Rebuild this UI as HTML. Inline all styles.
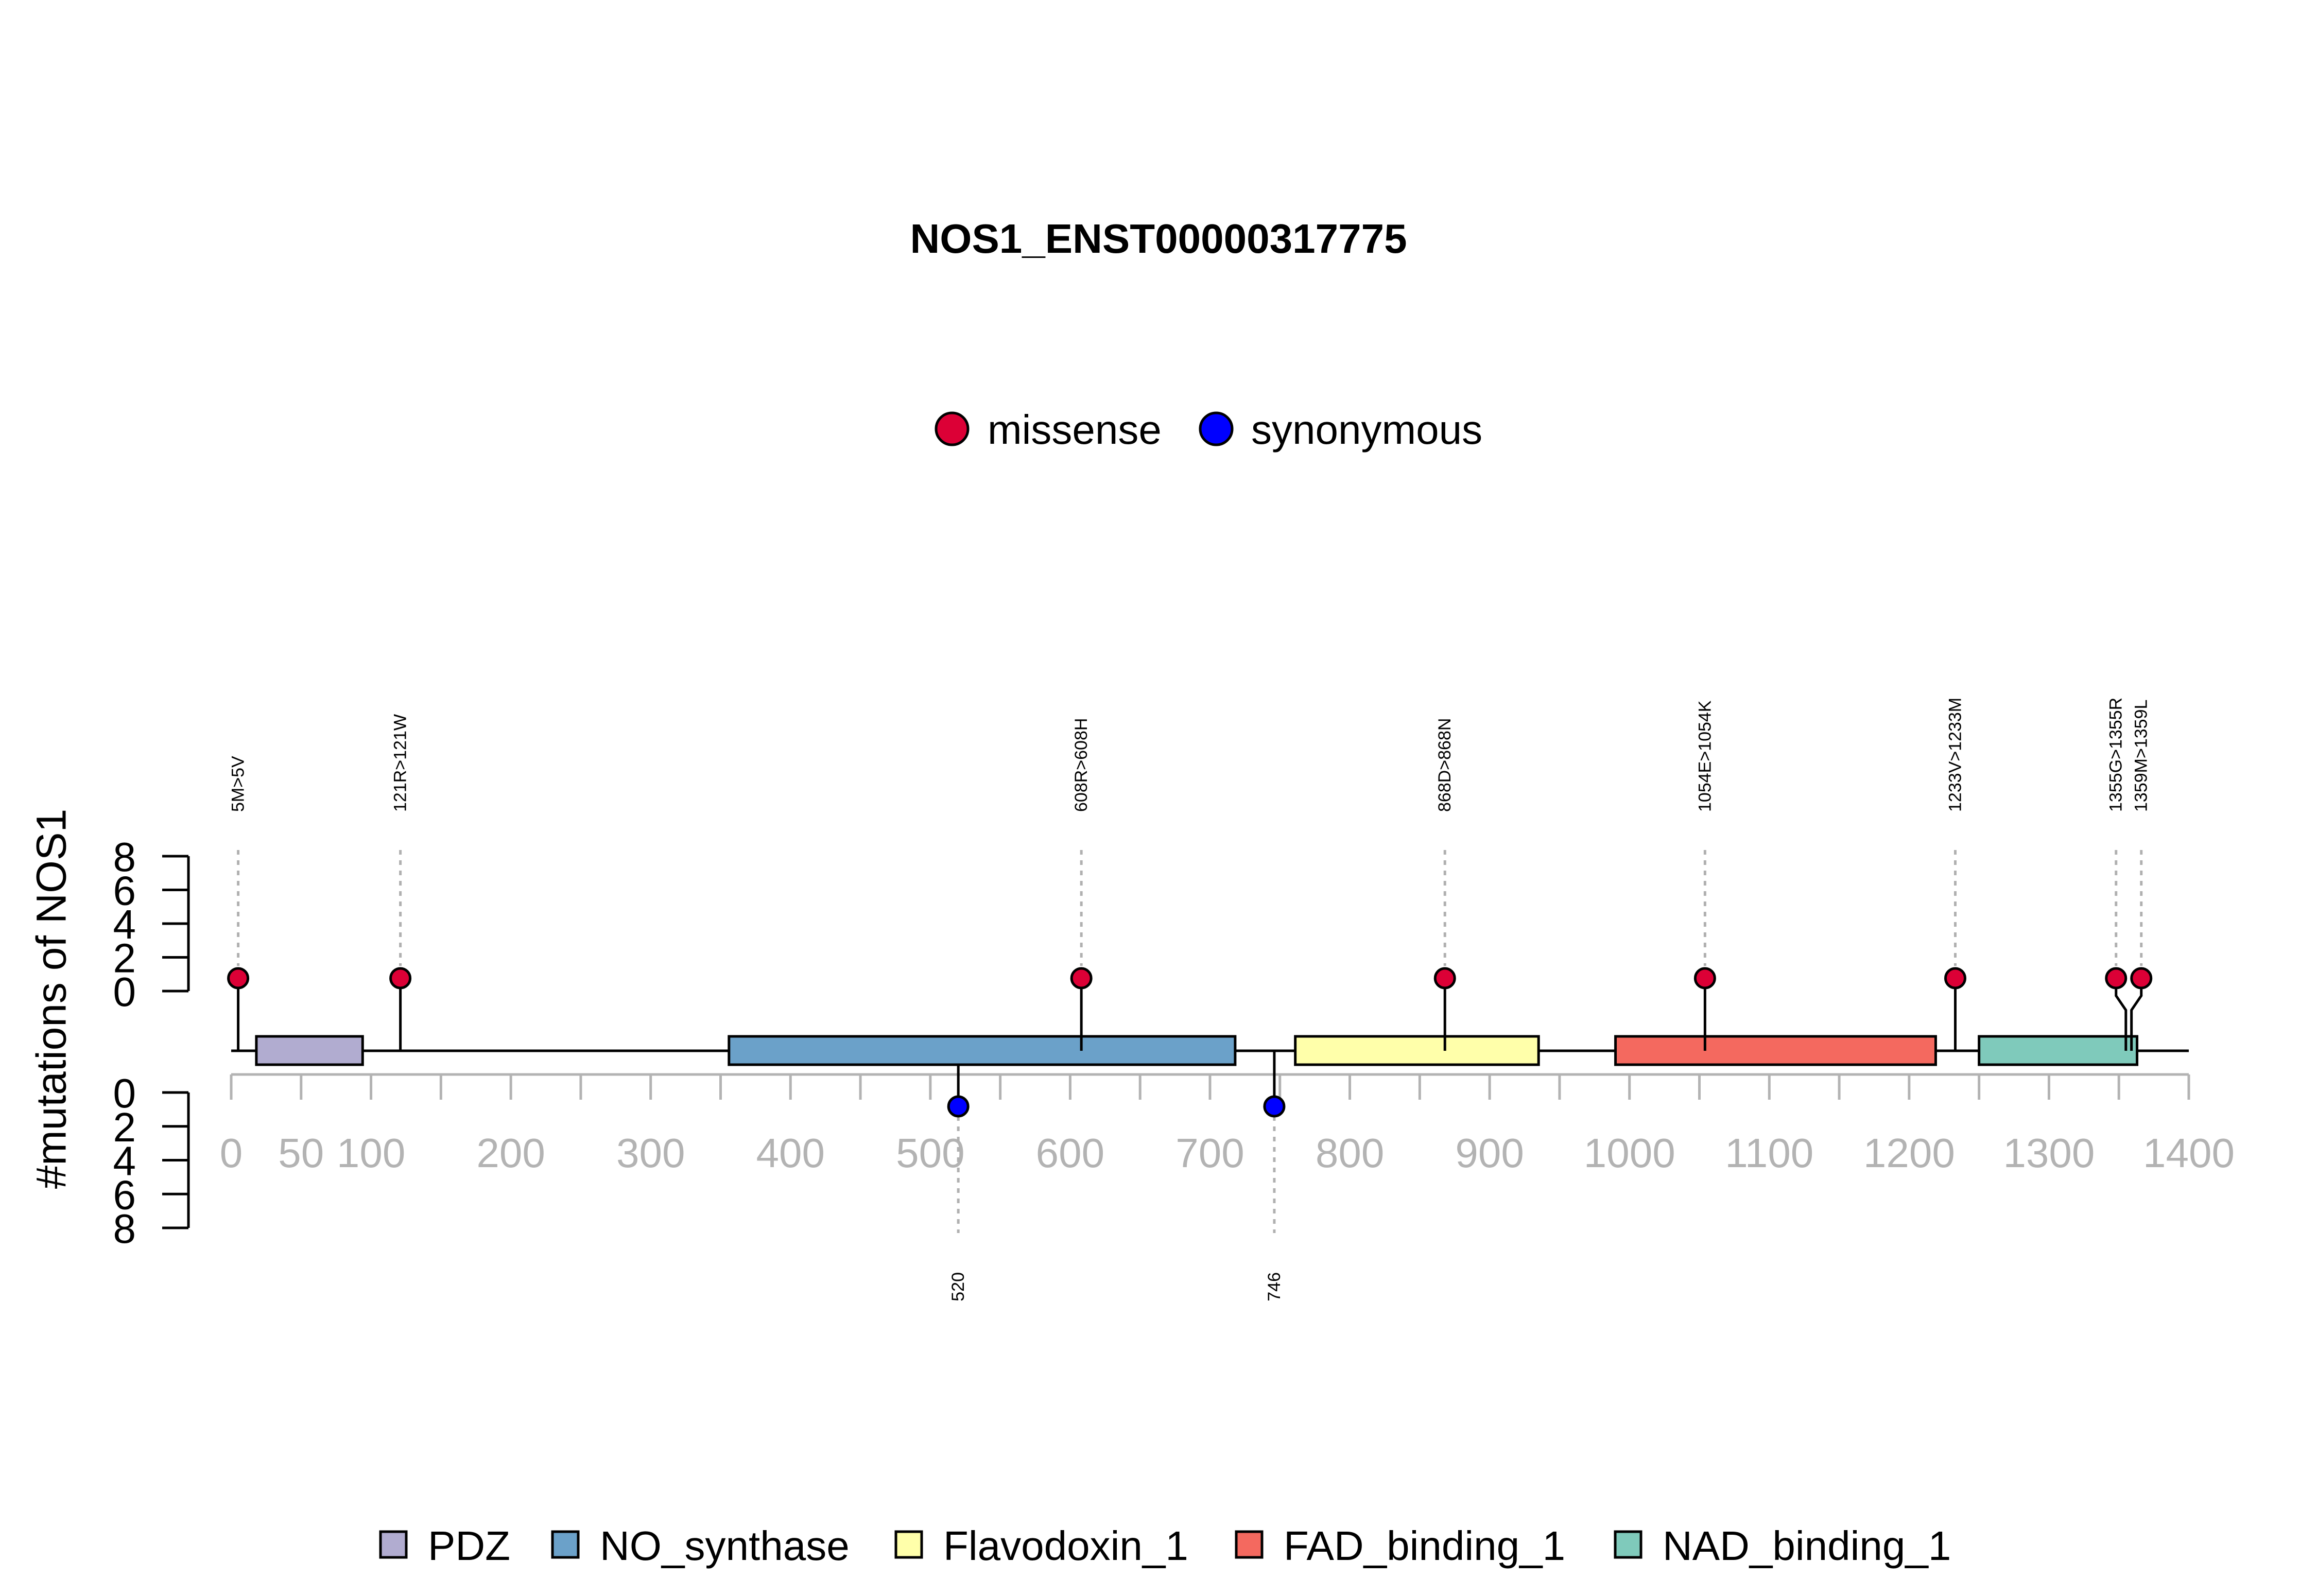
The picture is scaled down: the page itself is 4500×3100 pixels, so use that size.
<!DOCTYPE html>
<html><head><meta charset="utf-8"><style>
html,body{margin:0;padding:0;background:#fff;}
svg{display:block;font-family:"Liberation Sans",Arial,sans-serif;}
</style></head><body>
<svg id="chart" width="4500" height="3100" viewBox="0 0 4500 3100" xmlns="http://www.w3.org/2000/svg">
<text x="2250" y="491" text-anchor="middle" font-size="80" font-weight="bold">NOS1_ENST00000317775</text>
<g>
<circle cx="1849" cy="833" r="31" fill="#dc0036" stroke="#000" stroke-width="5"/>
<text x="1918" y="862" font-size="80">missense</text>
<circle cx="2362" cy="833" r="31" fill="#0000ff" stroke="#000" stroke-width="5"/>
<text x="2430" y="862" font-size="80">synonymous</text>
</g>
<text transform="translate(100,1940) rotate(-90)" text-anchor="middle" dominant-baseline="central" font-size="82">#mutations of NOS1</text>
<g id="plot"></g>
</svg>
<script>
const mutPos = [5, 121, 608, 868, 1054, 1233, 1355, 1359];
const mutLabels = ["5M>5V","121R>121W","608R>608H","868D>868N","1054E>1054K","1233V>1233M","1355G>1355R","1359M>1359L"];
const mutCounts = [1, 1, 1, 1, 1, 1, 1, 1];
const synPos = [520, 746];
const synLabels = ["520","746"];
const synCounts = [1, 1];
const domNames = ["PDZ","NO_synthase","Flavodoxin_1","FAD_binding_1","NAD_binding_1"];
const domStart = [18, 356, 761, 990, 1250];
const domEnd = [94, 718, 935, 1219, 1363];
const domColors = ["#b1acd0","#6ba1c9","#ffffaa","#f4695f","#7fcabb"];
const xTicks = [0,50,100,150,200,250,300,350,400,450,500,550,600,650,700,750,800,850,900,950,1000,1050,1100,1150,1200,1250,1300,1350,1400];
const xTickLabels = ["0","50","100","","200","","300","","400","","500","","600","","700","","800","","900","","1000","","1100","","1200","","1300","","1400"];
const yTicks = [0,2,4,6,8];
const proteinLength = 1400;

const NS="http://www.w3.org/2000/svg";
const plot=document.getElementById('plot');
function x(aa){return 449+aa*(4251-449)/1400;}
function yUp(v){return 1925-v*(1925-1663)/8;}
function yDn(v){return 2122+v*(2385-2122)/8;}
function stemUp(c){return 2041-141*c;}
function stemDn(c){return 2041+108*c;}
function mk(tag,attrs,parent){const e=document.createElementNS(NS,tag);for(const k in attrs)e.setAttribute(k,attrs[k]);(parent||plot).appendChild(e);return e;}
const BB=2041;

[['upper',yUp],['lower',yDn]].forEach(([nm,f])=>{
  const g=mk('g',{});
  
  
  mk('line',{x1:366,x2:366,y1:f(0),y2:f(8),stroke:'#000','stroke-width':5},g);
  yTicks.forEach(t=>{
    mk('line',{x1:315,x2:366,y1:f(t),y2:f(t),stroke:'#000','stroke-width':5},g);
    const tx=mk('text',{x:264,y:f(t)+29,'text-anchor':'end','font-size':80},g);
    
    
    tx.textContent=t;
  });
});

const xa=mk('g',{});


mk('line',{x1:x(0),x2:x(1400),y1:2087,y2:2087,stroke:'#b3b3b3','stroke-width':5},xa);
xTicks.forEach((t,i)=>{
  mk('line',{x1:x(t),x2:x(t),y1:2087,y2:2136,stroke:'#b3b3b3','stroke-width':5},xa);
  if(xTickLabels[i]){
    const tx=mk('text',{x:x(t),y:2267,'text-anchor':'middle','font-size':80,fill:'#b3b3b3'},xa);
    
    
    tx.textContent=xTickLabels[i];
  }
});

const bb=mk('line',{x1:x(0),x2:x(proteinLength),y1:BB,y2:BB,stroke:'#000','stroke-width':5});



synPos.forEach((p,i)=>{
  const g=mk('g',{});
  
  
  const cy=stemDn(synCounts[i]);
  mk('line',{x1:x(p),x2:x(p),y1:2168,y2:2395,stroke:'#b0b0b0','stroke-width':5,'stroke-dasharray':'9 11'},g);
  mk('line',{x1:x(p),x2:x(p),y1:BB,y2:cy,stroke:'#000','stroke-width':5},g);
  mk('circle',{cx:x(p),cy:cy,r:19,fill:'#0000ff',stroke:'#000','stroke-width':5},g);
  const t=mk('text',{transform:`translate(${x(p)},2471) rotate(-90)`,'text-anchor':'end','dominant-baseline':'central','font-size':34},g);
  
  
  t.textContent=synLabels[i];
});

domNames.forEach((n,i)=>{
  const r=mk('rect',{x:x(domStart[i]),y:2013,width:x(domEnd[i])-x(domStart[i]),height:55,fill:domColors[i],stroke:'#000','stroke-width':5});
  
  
});

const circX=mutPos.map(p=>x(p));
for(let i=1;i<circX.length;i++){ if(circX[i]-circX[i-1]<49){ const mid=(circX[i]+circX[i-1])/2; circX[i-1]=mid-24.5; circX[i]=mid+24.5; } }
mutPos.forEach((p,i)=>{
  const g=mk('g',{});
  
  
  const cx=circX[i], cy=stemUp(mutCounts[i]), px=x(p);
  mk('line',{x1:cx,x2:cx,y1:1651,y2:1876,stroke:'#b0b0b0','stroke-width':5,'stroke-dasharray':'9 11'},g);
  if(Math.abs(cx-px)<1){
    mk('line',{x1:px,x2:px,y1:BB,y2:cy,stroke:'#000','stroke-width':5},g);
  } else {
    mk('polyline',{points:`${cx},${cy} ${cx},1934 ${px},1962 ${px},${BB}`,fill:'none',stroke:'#000','stroke-width':5},g);
  }
  mk('circle',{cx:cx,cy:cy,r:19,fill:'#dc0036',stroke:'#000','stroke-width':5},g);
  const t=mk('text',{transform:`translate(${cx},1577) rotate(-90)`,'text-anchor':'start','dominant-baseline':'central','font-size':34},g);
  
  
  t.textContent=mutLabels[i];
});

const legX=[739,1073,1740,2401,3137];
domNames.forEach((n,i)=>{
  const g=mk('g',{});
  
  
  mk('rect',{x:legX[i],y:2975,width:50,height:50,fill:domColors[i],stroke:'#000','stroke-width':5},g);
  const t=mk('text',{x:legX[i]+92,y:3030,'font-size':80},g);
  t.textContent=n;
});
</script>
</body></html>
